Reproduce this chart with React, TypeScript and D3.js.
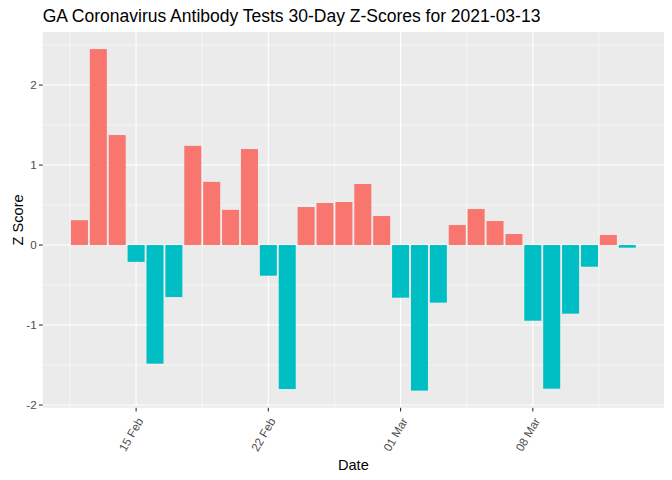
import React from "react";
import * as d3 from "d3";

const dates: string[] = [
  "2021-02-12","2021-02-13","2021-02-14","2021-02-15","2021-02-16","2021-02-17","2021-02-18",
  "2021-02-19","2021-02-20","2021-02-21","2021-02-22","2021-02-23","2021-02-24","2021-02-25",
  "2021-02-26","2021-02-27","2021-02-28","2021-03-01","2021-03-02","2021-03-03","2021-03-04",
  "2021-03-05","2021-03-06","2021-03-07","2021-03-08","2021-03-09","2021-03-10","2021-03-11",
  "2021-03-12","2021-03-13",
];
const zScores: number[] = [
  0.31, 2.45, 1.375, -0.21, -1.483, -0.65, 1.24, 0.79, 0.44, 1.2,
  -0.383, -1.8, 0.475, 0.525, 0.538, 0.763, 0.363, -0.658, -1.82, -0.72,
  0.25, 0.45, 0.3, 0.138, -0.946, -1.796, -0.858, -0.271, 0.125, -0.033,
];
const xTickDates: string[] = ["2021-02-15", "2021-02-22", "2021-03-01", "2021-03-08"];
const xTickLabels: string[] = ["15 Feb", "22 Feb", "01 Mar", "08 Mar"];
const xMinorDates: string[] = ["2021-02-11T12:00", "2021-02-18T12:00", "2021-02-25T12:00", "2021-03-04T12:00", "2021-03-11T12:00"];
const yTicks: number[] = [-2, -1, 0, 1, 2];
const yMinor: number[] = [-1.5, -0.5, 0.5, 1.5, 2.5];

const W = 672, H = 480;
const panel = { left: 42.7, right: 664, top: 32, bottom: 407.7 };
const DAY = 86400000;

export default function App() {
  const parse = (s: string) => new Date(s + (s.length === 10 ? "T00:00" : "")).getTime();
  const t = dates.map(parse);
  const tMin = d3.min(t)! - 0.45 * DAY, tMax = d3.max(t)! + 0.45 * DAY;
  const ex = (tMax - tMin) * 0.05;
  const x = d3.scaleLinear().domain([tMin - ex, tMax + ex]).range([panel.left, panel.right]);
  const yMinV = d3.min(zScores)!, yMaxV = d3.max(zScores)!;
  const ey = (yMaxV - yMinV) * 0.05;
  const y = d3.scaleLinear().domain([yMinV - ey, yMaxV + ey]).range([panel.bottom, panel.top]);
  const bw = x(0.9 * DAY) - x(0);
  const font = "'Liberation Sans', Arial, sans-serif";
  return (
    <svg width={W} height={H} style={{ position: "absolute", left: 0, top: 0 }} fontFamily={font}>
      <rect x={0} y={0} width={W} height={H} fill="#fff" />
      <rect x={panel.left} y={panel.top} width={panel.right - panel.left} height={panel.bottom - panel.top} fill="#EBEBEB" />
      {yMinor.map((v) => (
        <line key={"ym" + v} x1={panel.left} x2={panel.right} y1={y(v)} y2={y(v)} stroke="#fff" strokeWidth={0.55} />
      ))}
      {xMinorDates.map((d) => (
        <line key={"xm" + d} x1={x(parse(d))} x2={x(parse(d))} y1={panel.top} y2={panel.bottom} stroke="#fff" strokeWidth={0.55} />
      ))}
      {yTicks.map((v) => (
        <line key={"yM" + v} x1={panel.left} x2={panel.right} y1={y(v)} y2={y(v)} stroke="#fff" strokeWidth={1.1} />
      ))}
      {xTickDates.map((d) => (
        <line key={"xM" + d} x1={x(parse(d))} x2={x(parse(d))} y1={panel.top} y2={panel.bottom} stroke="#fff" strokeWidth={1.1} />
      ))}
      {zScores.map((v, i) => (
        <rect key={i} x={x(t[i]) - bw / 2} width={bw} y={Math.min(y(v), y(0))} height={Math.abs(y(v) - y(0))}
          fill={v >= 0 ? "#F8766D" : "#00BFC4"} />
      ))}
      {yTicks.map((v) => (
        <g key={"yl" + v}>
          <line x1={panel.left - 3.7} x2={panel.left} y1={y(v)} y2={y(v)} stroke="#333" strokeWidth={1.1} />
          <text x={panel.left - 6} y={y(v)} dy="0.35em" textAnchor="end" fontSize={11.7} fill="#4D4D4D">{v}</text>
        </g>
      ))}
      {xTickDates.map((d, i) => {
        const px = x(parse(d));
        return (
          <g key={"xl" + d}>
            <line x1={px} x2={px} y1={panel.bottom} y2={panel.bottom + 3.7} stroke="#333" strokeWidth={1.1} />
            <text transform={`translate(${px + 4},${panel.bottom + 11}) rotate(-60)`} textAnchor="end" dy="0.35em"
              fontSize={11.7} fill="#4D4D4D">{xTickLabels[i]}</text>
          </g>
        );
      })}
      <text x={(panel.left + panel.right) / 2} y={470} textAnchor="middle" fontSize={14.6} fill="#000">Date</text>
      <text transform={`translate(18,${(panel.top + panel.bottom) / 2}) rotate(-90)`} textAnchor="middle" dy="0.35em" fontSize={14.6} fill="#000">Z Score</text>
      <text x={panel.left} y={22} fontSize={17.5} fill="#000">GA Coronavirus Antibody Tests 30-Day Z-Scores for 2021-03-13</text>
    </svg>
  );
}
